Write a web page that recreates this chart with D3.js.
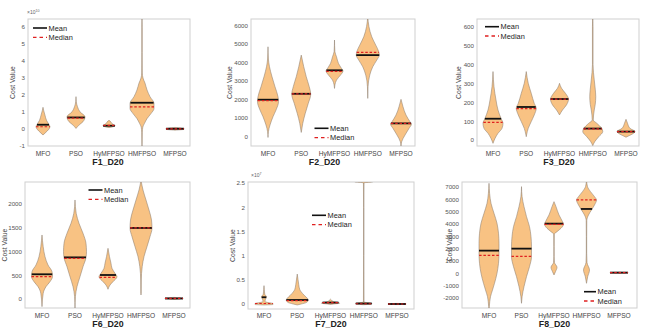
<!DOCTYPE html>
<html><head><meta charset="utf-8">
<script src="https://cdn.jsdelivr.net/npm/d3@7"></script>
<style>
body{margin:0;background:#fff;}
svg{display:block;font-family:Arial,"Liberation Sans",sans-serif;}
</style></head>
<body><svg id="c" width="650" height="329"></svg>
<script>
const categories = ["MFO","PSO","HyMFPSO","HMFPSO","MFPSO"];

// ---- F1_D20 (x1e10) ----
const f1Ticks = [-1,0,1,2,3,4,5,6];
const f1Means = [0.24,0.67,0.18,1.54,0];
const f1Medians = [0.12,0.63,0.2,1.3,0];
const f1Violins = [
  [[1.27,0],[1.1,0.6],[0.8,2],[0.5,3.5],[0.3,5.5],[0.12,7],[-0.05,5.5],[-0.2,3],[-0.37,0]],
  [[1.9,0],[1.6,0.3],[1.3,1.5],[1.0,4],[0.71,9],[0.42,7],[0.22,3],[0.02,0]],
  [[0.5,0],[0.4,2],[0.3,3],[0.22,5.5],[0.17,6],[0.12,4],[0.07,0]],
  [[6.6,0],[6.0,0.2],[4.5,0.2],[3.3,0.3],[3.0,1],[2.7,3],[2.3,5],[1.9,8],[1.5,12],[1.2,12],[0.9,9],[0.6,5],[0.32,2.5],[0.1,0.8],[-0.2,0.3],[-0.6,0.2],[-1.1,0]],
  [[0.08,0],[0.03,9],[-0.03,9],[-0.08,0]]
];

// ---- F2_D20 ----
const f2Ticks = [0,1000,2000,3000,4000,5000,6000];
const f2Means = [2000,2320,3590,4410,720];
const f2Medians = [1950,2320,3530,4560,720];
const f2Violins = [
  [[4860,0],[4200,0.4],[3780,1.5],[3240,4],[2700,7],[2160,10],[1890,10.5],[1440,8],[1080,5],[630,2],[270,0.4],[-40,0]],
  [[4410,0],[3780,2.5],[3240,5],[2700,8],[2300,9.5],[1800,7],[1260,4],[720,1.5],[230,0]],
  [[5225,0],[4600,0.4],[4320,2],[3960,4],[3690,7],[3550,8.5],[3330,6],[3060,2],[2800,0.4],[2610,0]],
  [[6500,0],[5950,1.2],[5400,4],[4950,8],[4590,11],[4410,11.5],[4140,9],[3780,5],[3330,2],[2700,0.3],[2070,0]],
  [[2020,0],[1620,2],[1170,5],[810,9],[685,10.5],[450,8],[90,4],[-270,0.7],[-500,0]]
];

// ---- F3_D20 ----
const f3Ticks = [0,100,200,300,400,500,600];
const f3Means = [114,176,218,62,46];
const f3Medians = [95,167,218,60,46];
const f3Violins = [
  [[363,0],[283,1],[213,3],[160,5],[116,8],[90,10],[63,9],[37,5],[10,2],[-16,0]],
  [[363,0],[301,2],[248,5],[195,8],[169,10],[134,8],[99,5],[63,2],[28,0.3],[19,0]],
  [[301,0],[275,2],[248,6],[217,9],[187,7],[160,3],[134,0]],
  [[660,0],[600,0.3],[400,0.3],[319,1.5],[270,2.5],[230,3],[190,2.5],[160,1.5],[107,0.5],[90,4],[63,9],[46,10],[19,6],[-7,2],[-28,0]],
  [[111,0],[90,1.5],[63,4],[46,9],[32,6],[19,1],[16,0]]
];

// ---- F6_D20 ----
const f6Ticks = [0,500,1000,1500,2000];
const f6Means = [525,880,510,1497,18];
const f6Medians = [476,860,462,1497,18];
const f6Violins = [
  [[1350,0],[1105,1.2],[895,3],[720,6],[580,10],[475,10.5],[370,8],[266,4],[126,1.2],[-154,0]],
  [[2084,0],[1804,1.2],[1594,4],[1385,8],[1175,11],[1000,11.5],[874,11],[685,8],[475,5],[266,2],[56,0.4],[-190,0]],
  [[1070,0],[895,1.5],[755,3],[650,4],[545,7],[475,9],[370,5],[300,2],[210,0]],
  [[2500,0],[2294,2],[2084,5],[1874,8],[1664,10.5],[1490,11],[1315,9],[1105,6],[895,3],[685,1.2],[405,0.3],[126,0.2],[91,0]],
  [[40,0],[25,9],[10,9],[-5,0]]
];

// ---- F7_D20 (x1e7) ----
const f7Ticks = [0,0.5,1,1.5,2,2.5];
const f7Means = [0.14,0.083,0.03,0.01,0];
const f7Medians = [0.01,0.07,0.03,0.005,0];
const f7Violins = [
  [[0.38,0],[0.3,0.3],[0.2,0.8],[0.15,2.5],[0.1,1.5],[0.05,1],[0.03,4],[0.01,9],[-0.01,9],[-0.02,0]],
  [[0.62,0],[0.5,0.8],[0.4,1.5],[0.3,2.5],[0.25,4],[0.18,7],[0.12,10],[0.08,11],[0.03,9],[0,4],[-0.02,0]],
  [[0.1,0],[0.08,1],[0.05,3],[0.03,8],[0.015,9],[0,3],[-0.01,0]],
  [[2.6,9],[2.53,9],[2.51,0.3],[2.0,0.2],[1.0,0.2],[0.04,0.3],[0.015,8],[0,8],[-0.015,0]],
  [[0.012,0],[0.005,9],[-0.005,9],[-0.012,0]]
];

// ---- F8_D20 ----
const f8Ticks = [-2000,-1000,0,1000,2000,3000,4000,5000,6000,7000];
const f8Means = [1865,2027,4054,5243,80];
const f8Medians = [1486,1405,4000,5973,80];
const f8Violins = [
  [[7324,0],[6514,0.6],[5700,2],[4890,5],[4080,8],[3270,9.5],[2460,10],[1650,10],[838,9.5],[27,8],[-784,5.5],[-1324,3.5],[-1865,1.5],[-2676,0.3],[-2900,0]],
  [[7054,0],[6243,0.6],[5432,2.5],[4622,5],[3811,8],[3000,9.5],[2189,10],[1378,10],[568,8],[-243,5],[-1054,2.5],[-1865,0.6],[-2405,0]],
  [[5838,0],[5432,2],[4757,5],[4216,8.5],[4000,9.5],[3676,7],[3405,3],[3200,0.3],[2189,0.2],[1378,0.2],[900,0.5],[514,3],[162,1.5],[-108,0]],
  [[7600,0],[7054,1],[6649,4],[6243,8],[5973,10],[5568,8],[5162,5],[4757,2],[4300,0.3],[3000,0.2],[1649,0.2],[900,0.5],[297,3],[-243,1.2],[-784,0]],
  [[130,0],[100,9],[60,9],[30,0]]
];

const titles = ["F1_D20","F2_D20","F3_D20","F6_D20","F7_D20","F8_D20"];
const exponents = ["10","","","","7",""];

// layout
const panels = [
  {ticks:f1Ticks, means:f1Means, medians:f1Medians, violins:f1Violins,
   box:[28,19,190,146], cx:[43,175], ty:[6,27.3,-1,145.7], title:[108,165], catY:156, ylab:12.7,
   leg:[33,28,14], exp:[27,14]},
  {ticks:f2Ticks, means:f2Means, medians:f2Medians, violins:f2Violins,
   box:[251,19,415,146], cx:[268,401], ty:[6000,25.7,0,136.7], title:[324.5,165], catY:156, ylab:230,
   leg:[314.5,128.3,14]},
  {ticks:f3Ticks, means:f3Means, medians:f3Medians, violins:f3Violins,
   box:[477,19,639,146], cx:[493,626], ty:[600,26.7,0,140.3], title:[559,165], catY:156, ylab:459,
   leg:[485,26.7,14]},
  {ticks:f6Ticks, means:f6Means, medians:f6Medians, violins:f6Violins,
   box:[25,182,190,308], cx:[42,174], ty:[2000,204,0,299.3], title:[108,326.5], catY:317.5, ylab:5,
   leg:[88.5,190,14]},
  {ticks:f7Ticks, means:f7Means, medians:f7Medians, violins:f7Violins,
   box:[248,182,414,309], cx:[264,397], ty:[2.5,183.3,0,304], title:[331,326.5], catY:317.5, ylab:233,
   leg:[312,215.3,14], exp:[251,177]},
  {ticks:f8Ticks, means:f8Means, medians:f8Medians, violins:f8Violins,
   box:[462,182,637,308], cx:[489,619], ty:[7000,187.3,-2000,298.3], title:[554.5,326.5], catY:317.5, ylab:450,
   leg:[584,291.7,12]}
];

const svg = d3.select("#c");
const wScale = d3.scaleLinear().domain([0,10]).range([0,10]);
const FILL = "#f8c283", EDGE = "#8e7f70";

function hwAt(prof, v){
  for(let i=0;i<prof.length-1;i++){
    const a=prof[i], b=prof[i+1];
    if((v<=a[0]&&v>=b[0])){
      const t=(a[0]-v)/(a[0]-b[0]||1);
      return a[1]+(b[1]-a[1])*t;
    }
  }
  return 0;
}

panels.forEach((p,pi)=>{
  const [x0,y0,x1,y1]=p.box;
  const g = svg.append("g");
  const y = d3.scaleLinear().domain([p.ty[0],p.ty[2]]).range([p.ty[1],p.ty[3]]);
  const x = d3.scalePoint().domain(categories).range(p.cx);
  const clipId = "clip"+pi;
  svg.append("clipPath").attr("id",clipId).append("rect")
     .attr("x",x0).attr("y",y0).attr("width",x1-x0).attr("height",y1-y0);

  g.append("rect").attr("x",x0).attr("y",y0).attr("width",x1-x0).attr("height",y1-y0)
   .attr("fill","none").attr("stroke","#cfcfcf").attr("stroke-width",1);

  g.selectAll(".yt").data(p.ticks).enter().append("text")
   .attr("x",x0-3).attr("y",d=>y(d)).attr("dy","0.35em")
   .attr("text-anchor","end").attr("font-size",6.2).attr("fill","#555")
   .text(d=>d);

  g.selectAll(".xt").data(categories).enter().append("text")
   .attr("x",d=>x(d)).attr("y",p.catY).attr("text-anchor","middle")
   .attr("font-size",6.6).attr("fill","#444").text(d=>d);

  g.append("text").attr("transform",`translate(${p.ylab},${(y0+y1)/2}) rotate(-90)`)
   .attr("dy","0.35em").attr("text-anchor","middle").attr("font-size",6.8).attr("fill","#444")
   .text("Cost Value");

  g.append("text").attr("x",p.title[0]).attr("y",p.title[1]).attr("text-anchor","middle")
   .attr("font-size",8.8).attr("font-weight","bold").attr("fill","#222").text(titles[pi]);

  if(exponents[pi]){
    const t=g.append("text").attr("x",p.exp[0]).attr("y",p.exp[1]).attr("font-size",5).attr("fill","#666");
    t.append("tspan").text("\u00d710");
    t.append("tspan").attr("dy",-2).attr("font-size",3.6).text(exponents[pi]);
  }

  const vg = g.append("g").attr("clip-path",`url(#${clipId})`);
  categories.forEach((c,i)=>{
    const cx = x(c), prof = p.violins[i];
    const area = d3.area()
      .y(d=>y(d[0])).x0(d=>cx-wScale(d[1])).x1(d=>cx+wScale(d[1]))
      .curve(d3.curveMonotoneY);
    vg.append("path").attr("d",area(prof)).attr("fill",FILL)
      .attr("stroke",EDGE).attr("stroke-width",0.55);
    const hm = Math.max(wScale(hwAt(prof,p.means[i])),2);
    vg.append("line").attr("x1",cx-hm).attr("x2",cx+hm)
      .attr("y1",y(p.means[i])).attr("y2",y(p.means[i]))
      .attr("stroke","#111").attr("stroke-width",1.8);
    const hd = Math.max(wScale(hwAt(prof,p.medians[i])),2);
    vg.append("line").attr("x1",cx-hd).attr("x2",cx+hd)
      .attr("y1",y(p.medians[i])).attr("y2",y(p.medians[i]))
      .attr("stroke","#e02020").attr("stroke-width",1.2).attr("stroke-dasharray","2.5,1.8");
  });

  const [lx,ly,ll]=p.leg;
  g.append("line").attr("x1",lx).attr("x2",lx+ll).attr("y1",ly).attr("y2",ly)
   .attr("stroke","#111").attr("stroke-width",1.6);
  g.append("line").attr("x1",lx).attr("x2",lx+ll).attr("y1",ly+9.3).attr("y2",ly+9.3)
   .attr("stroke","#e02020").attr("stroke-width",1.3).attr("stroke-dasharray","3.5,3");
  g.append("text").attr("x",lx+ll+1.5).attr("y",ly).attr("dy","0.35em")
   .attr("font-size",7.4).attr("fill","#222").text("Mean");
  g.append("text").attr("x",lx+ll+1.5).attr("y",ly+9.3).attr("dy","0.35em")
   .attr("font-size",7.4).attr("fill","#222").text("Median");
});
</script></body></html>
